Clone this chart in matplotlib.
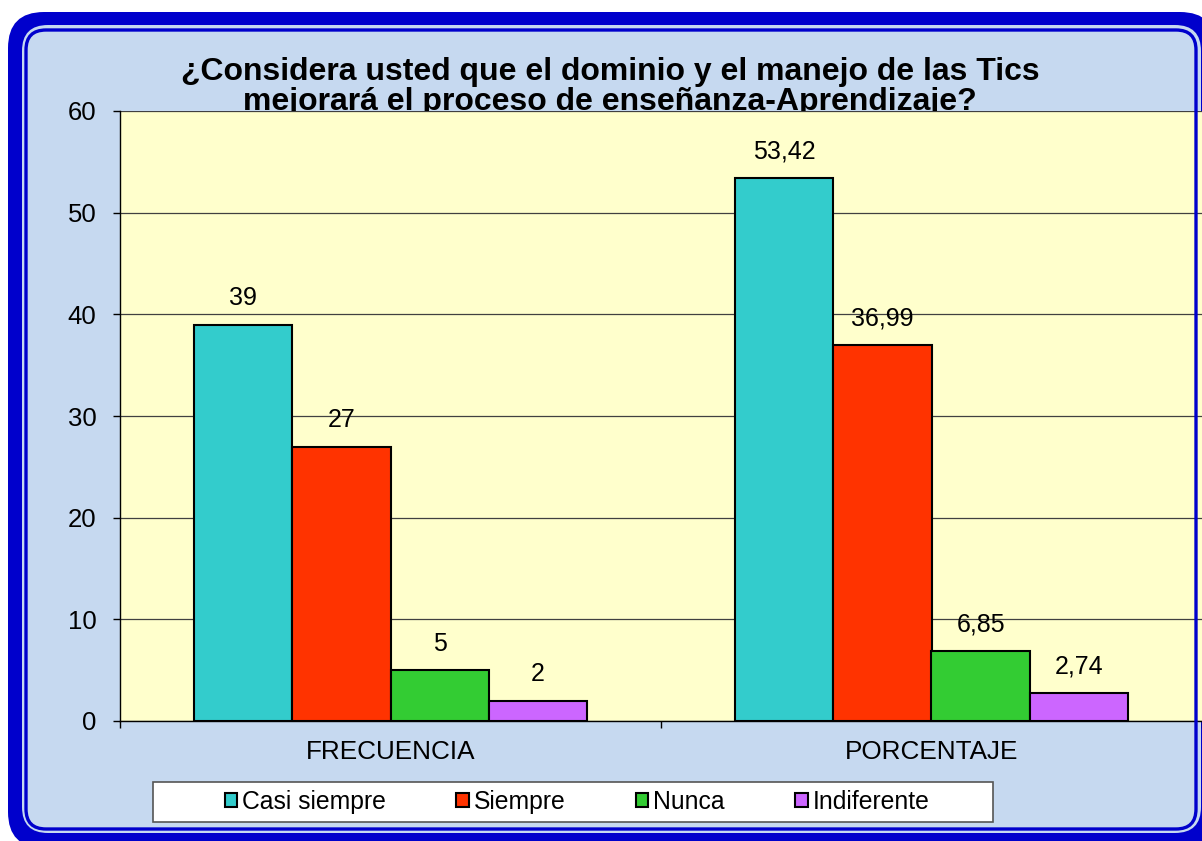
import matplotlib
matplotlib.use("Agg")
import matplotlib.pyplot as plt
from matplotlib.patches import FancyBboxPatch, Patch, Rectangle
from matplotlib.transforms import IdentityTransform

plt.rcParams['font.family'] = ['Liberation Sans', 'DejaVu Sans']

# data
categories = ["FRECUENCIA", "PORCENTAJE"]
series_names = ["Casi siempre", "Siempre", "Nunca", "Indiferente"]
casi_siempre = [39, 53.42]
siempre = [27, 36.99]
nunca = [5, 6.85]
indiferente = [2, 2.74]
series_values = [casi_siempre, siempre, nunca, indiferente]
colors = ["#33CCCC", "#FF3300", "#33CC33", "#CC66FF"]
yticks = [0, 10, 20, 30, 40, 50, 60]

W, H = 1202, 841
fig = plt.figure(figsize=(W / 100, H / 100), dpi=100)
fig.patch.set_facecolor("white")


def img_box(x0, y0, x1, y1, **kw):
    # rectangle in image pixel coords (y from top)
    rs = kw.pop("rs")
    return FancyBboxPatch((x0, H - y1), x1 - x0, y1 - y0,
                          boxstyle="round,pad=0,rounding_size=%d" % rs,
                          transform=IdentityTransform(), **kw)


# frame of the chart
fig.add_artist(img_box(8, 12, 1216, 848, rs=36, fc="#0000CC", ec="none", zorder=-10))
fig.add_artist(img_box(22, 25, 1201, 833, rs=26, fc="#C6D9F0", ec="none", zorder=-9))
fig.add_artist(img_box(26, 30, 1196, 829, rs=20, fc="none", ec="#0000CC", lw=2.4, zorder=10))

# title (partly hidden by the plot area, like the original)
fig.text(610 / W, 1 - 80 / H, "¿Considera usted que el dominio y el manejo de las Tics",
         ha="center", va="baseline", fontsize=23, fontweight="bold", zorder=-5)
fig.text(610 / W, 1 - 110 / H, "mejorará el proceso de enseñanza-Aprendizaje?",
         ha="center", va="baseline", fontsize=23, fontweight="bold", zorder=-5)

ax = fig.add_axes([120 / W, 1 - 721 / H, 1082 / W, 610 / H])
ax.set_facecolor("#FFFFCC")

w = 1 / 5.5
offsets = [-1.5, -0.5, 0.5, 1.5]
x = list(range(len(categories)))
for name, vals, col, off in zip(series_names, series_values, colors, offsets):
    xs = [xi + off * w for xi in x]
    ax.bar(xs, vals, width=w, color=col, edgecolor="black", linewidth=1.5,
           label=name, zorder=3)
    for xi, v, ci in zip(xs, vals, x):
        txt = str(int(v)) if ci == 0 else ("%.2f" % v).replace(".", ",")
        ax.annotate(txt, (xi, v), xytext=(0, 14), textcoords="offset points",
                    ha="center", va="baseline", fontsize=18, zorder=4)

ax.set_xlim(-0.5, 1.5)
ax.set_ylim(0, 60)
ax.set_yticks(yticks)
ax.set_yticklabels([str(t) for t in yticks])
ax.yaxis.grid(True, color="#404040", linewidth=0.9)
ax.set_axisbelow(True)

ax.set_xticks(x)
ax.set_xticklabels(categories)
ax.set_xticks([-0.5, 0.5, 1.5], minor=True)
ax.tick_params(axis="x", which="major", length=0, pad=14, labelsize=18.8)
ax.tick_params(axis="x", which="minor", length=5, width=1, direction="out")
ax.tick_params(axis="y", length=5, width=1, direction="out", pad=12, labelsize=18.5)

for s in ["top", "right"]:
    ax.spines[s].set_visible(False)
for s in ["left", "bottom"]:
    ax.spines[s].set_color("black")
    ax.spines[s].set_linewidth(1)

# legend box
fig.add_artist(Rectangle((153, H - 822), 840, 40, transform=IdentityTransform(),
                         fc="white", ec="#555555", lw=1.2, zorder=1))
handles = [Patch(facecolor=c, edgecolor="black", linewidth=1.5) for c in colors]
leg = fig.legend(handles, series_names, loc="center", ncol=4, frameon=False,
                 bbox_to_anchor=(577 / W, 1 - 802 / H), fontsize=17.8,
                 handlelength=0.5, handleheight=0.5, handletextpad=0.2,
                 columnspacing=2.85)
leg.set_zorder(2)

fig.savefig("out.png", dpi=100)
